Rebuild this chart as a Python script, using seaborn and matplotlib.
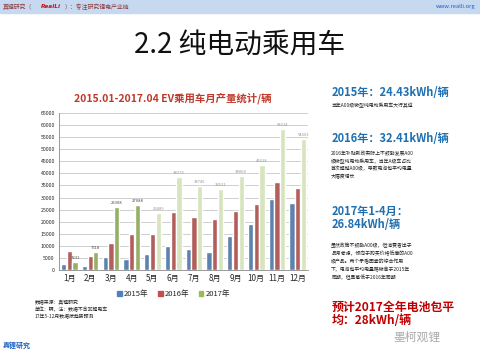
import matplotlib
matplotlib.use("Agg")
import matplotlib.pyplot as plt
import seaborn as sns
import pandas as pd
from matplotlib.patches import Rectangle

# DATA
months = ["1月", "2月", "3月", "4月", "5月", "6月",
          "7月", "8月", "9月", "10月", "11月", "12月"]
years = ["2015年", "2016年", "2017年"]
prod_2015 = [2300, 1800, 5300, 4700, 6500, 10000, 8500, 7300, 14100, 19200, 29600, 27800]
prod_2016 = [7900, 5700, 11200, 15000, 14800, 24200, 21800, 21000, 24300, 27300, 36600, 34000]
prod_2017 = [3231, 7618, 25908, 27088, 23489, 38375, 34745, 33521, 38868, 43628, 58314, 54403]
n_actual_2017 = 4  # 2017 May-Dec are forecasts

# STYLE SETTINGS
sns.set_style("white")
plt.rcParams["font.family"] = ["Noto Sans CJK SC", "DejaVu Sans"]

df = pd.DataFrame({
    "month": months * 3,
    "year": [years[0]] * 12 + [years[1]] * 12 + [years[2]] * 12,
    "value": prod_2015 + prod_2016 + prod_2017,
})

colors = ["#4F81BD", "#C0504D", "#9BBB59"]
forecast_color = "#D7E4BD"

fig = plt.figure(figsize=(4.8, 3.6), dpi=100)

# top banner
fig.patches.append(Rectangle((0, 0.965), 1, 0.035, transform=fig.transFigure,
                             color="#C6D9F0", zorder=0))
fig.text(0.005, 0.982, "真锂研究（", fontsize=4.2, color="#8B3A3A", va="center")
fig.text(0.085, 0.982, "RealLi", fontsize=4.2, color="#D01010", va="center",
         fontweight="bold", style="italic", family="DejaVu Sans")
fig.text(0.135, 0.982, "）：专注研究锂电产业链", fontsize=4.2, color="#8B3A3A",
         va="center")
fig.text(0.99, 0.982, "www.realli.org", fontsize=4.2, color="#1F5FBF",
         va="center", ha="right")

# slide title
fig.text(0.5, 0.872, "2.2 纯电动乘用车", fontsize=20, color="#111111",
         ha="center", va="center")

# chart
ax = fig.add_axes([0.123, 0.25, 0.519, 0.436])
sns.barplot(data=df, x="month", y="value", hue="year", palette=colors,
            width=0.82, gap=0.08, ax=ax, legend=False)

bars_2017 = ax.containers[2]
for i, bar in enumerate(bars_2017):
    if i >= n_actual_2017:
        bar.set_facecolor(forecast_color)

labels = [f"{v}" for v in prod_2017]
ax.bar_label(bars_2017, labels=labels, fontsize=3, color="#444444", padding=1.5)
for i, t in enumerate(ax.texts):
    if i >= n_actual_2017:
        t.set_color("#999999")

ax.set_ylim(0, 65000)
ax.set_yticks(range(0, 65001, 5000))
ax.tick_params(axis="y", labelsize=3.8, length=0, pad=3)
ax.tick_params(axis="x", labelsize=5.8, length=0, pad=3)
ax.grid(axis="y", color="#C8C8C8", linewidth=0.6)
ax.set_axisbelow(True)
ax.set_xlabel("")
ax.set_ylabel("")
for s in ["top", "right"]:
    ax.spines[s].set_visible(False)
ax.spines["left"].set_color("#888888")
ax.spines["bottom"].set_color("#888888")
ax.spines["left"].set_linewidth(0.6)
ax.spines["bottom"].set_linewidth(0.6)

fig.text(0.36, 0.728, "2015.01-2017.04 EV乘用车月产量统计/辆", fontsize=7.5,
         color="#C0392B", fontweight="bold", ha="center", va="center")

handles = [Rectangle((0, 0), 1, 1, color=c) for c in colors]
ax.legend(handles, years, loc="upper center", bbox_to_anchor=(0.46, -0.085),
          ncol=3, frameon=False, fontsize=5.5, handlelength=0.6,
          handleheight=0.6, columnspacing=1.2, handletextpad=0.3)

# notes under chart
fig.text(0.072, 0.155, "数据来源：真锂研究", fontsize=3.5, color="#222222")
fig.text(0.072, 0.135, "单位：辆，注：数据不含非锂电车", fontsize=3.5, color="#222222")
fig.text(0.072, 0.115, "17年5-12月数据按趋势预测", fontsize=3.5, color="#222222")
fig.text(0.005, 0.035, "真锂研究", fontsize=5, color="#1F5FBF", fontweight="bold")

# right panel
blue = "#1F6FB2"
fig.text(0.69, 0.742, "2015年：24.43kWh/辆", fontsize=8, color=blue,
         fontweight="bold", va="center")
fig.text(0.69, 0.708, "当年A00级微型纯电动乘用车大行其道", fontsize=3.5,
         color="#222222", va="center")
fig.text(0.69, 0.614, "2016年：32.41kWh/辆", fontsize=8, color=blue,
         fontweight="bold", va="center")
fig.text(0.69, 0.505,
         "2016年补贴新政实际上不鼓励发展A00\n级微型纯电动乘用车，当年A级车占比\n"
         "首次超越A00级，导致电池包平均电量\n大幅度增长",
         fontsize=3.5, color="#222222", linespacing=1.6)
fig.text(0.69, 0.414, "2017年1-4月：", fontsize=8, color=blue,
         fontweight="bold", va="center")
fig.text(0.69, 0.375, "26.84kWh/辆", fontsize=8, color=blue,
         fontweight="bold", va="center")
fig.text(0.69, 0.225,
         "虽然政策不鼓励A00级，但消费者出于\n品号考虑，倾向于购买价格低廉的A00\n"
         "级产品。两个矛盾因素的综合作用\n下，电池包平均电量略微高于2015年\n"
         "同期，但显著低于2016年同期",
         fontsize=3.5, color="#222222", linespacing=1.6)
fig.text(0.69, 0.147, "预计2017全年电池包平", fontsize=8.6,
         color="#C00000", fontweight="bold", va="center")
fig.text(0.69, 0.111, "均：28kWh/辆", fontsize=8.6,
         color="#C00000", fontweight="bold", va="center")
fig.text(0.82, 0.063, "墨柯观锂", fontsize=8.5, color="#AAAAAA", va="center")

plt.savefig("out.png", dpi=100)
plt.close()
